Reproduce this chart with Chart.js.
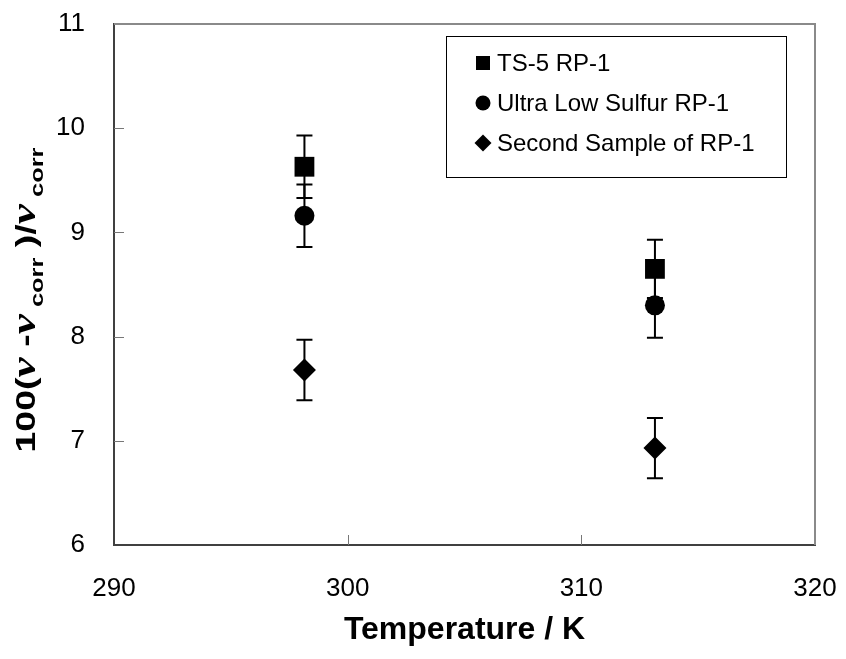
<!DOCTYPE html>
<html><head><meta charset="utf-8">
<script src="https://cdn.jsdelivr.net/npm/chart.js@4.4.1/dist/chart.umd.min.js"></script>
<style>html,body{margin:0;padding:0;background:#fff}#wrap{width:846px;height:659px}</style>
</head><body><div id="wrap"><canvas id="c" width="846" height="659"></canvas></div>
<script>
const temperatures = [298.15, 313.15];
const ts5Values = [9.63, 8.65];
const ts5Errors = [0.30, 0.28];
const ulsValues = [9.16, 8.30];
const ulsErrors = [0.30, 0.31];
const secondValues = [7.68, 6.93];
const secondErrors = [0.29, 0.29];
const seriesLabels = ['TS-5 RP-1', 'Ultra Low Sulfur RP-1', 'Second Sample of RP-1'];
const xTicks = [290, 300, 310, 320];
const yTicks = [6, 7, 8, 9, 10, 11];
const xTitle = 'Temperature / K';
const yTitleParts = ['100(', 'ν', ' -', 'ν', ' corr', ' )/', 'ν', ' corr'];

const FONT = "'Liberation Sans', Arial, sans-serif";

function pts(vals) { return temperatures.map((t, i) => ({ x: t, y: vals[i] })); }

const errorBarPlugin = {
  id: 'errorBars',
  beforeDatasetsDraw(chart) {
    const { ctx, scales: { x, y } } = chart;
    ctx.save();
    ctx.strokeStyle = '#000';
    ctx.lineWidth = 2;
    chart.data.datasets.forEach(ds => {
      ds.data.forEach((p, i) => {
        const e = ds.errorValues[i];
        const px = x.getPixelForValue(p.x);
        const yt = y.getPixelForValue(p.y + e);
        const yb = y.getPixelForValue(p.y - e);
        ctx.beginPath();
        ctx.moveTo(px, yt); ctx.lineTo(px, yb);
        ctx.moveTo(px - 8, yt); ctx.lineTo(px + 8, yt);
        ctx.moveTo(px - 8, yb); ctx.lineTo(px + 8, yb);
        ctx.stroke();
      });
    });
    ctx.restore();
  }
};

const framePlugin = {
  id: 'frame',
  beforeDatasetsDraw(chart) {
    const { ctx, chartArea: a, scales: { x, y } } = chart;
    ctx.save();
    ctx.strokeStyle = '#8a8a8a';
    ctx.lineWidth = 2;
    ctx.beginPath();
    ctx.moveTo(a.left, a.top); ctx.lineTo(a.right, a.top); ctx.lineTo(a.right, a.bottom);
    ctx.stroke();
    ctx.strokeStyle = '#777';
    ctx.lineWidth = 1;
    ctx.beginPath();
    xTicks.forEach(v => {
      const px = Math.round(x.getPixelForValue(v)) + 0.5;
      if (v === xTicks[0] || v === xTicks[xTicks.length - 1]) return;
      ctx.moveTo(px, a.bottom); ctx.lineTo(px, a.bottom - 10);
    });
    yTicks.forEach(v => {
      const py = Math.round(y.getPixelForValue(v)) + 0.5;
      if (v === yTicks[0] || v === yTicks[yTicks.length - 1]) return;
      ctx.moveTo(a.left, py); ctx.lineTo(a.left + 10, py);
    });
    ctx.stroke();
    ctx.restore();
  }
};

const legendPlugin = {
  id: 'boxLegend',
  afterDraw(chart) {
    const { ctx } = chart;
    ctx.save();
    ctx.strokeStyle = '#000';
    ctx.lineWidth = 1;
    ctx.strokeRect(446.5, 36.5, 340, 141);
    const rows = [63, 103, 143];
    ctx.fillStyle = '#000';
    ctx.font = '24px ' + FONT;
    ctx.textBaseline = 'middle';
    ctx.textAlign = 'left';
    chart.data.datasets.forEach((ds, i) => {
      const cy = rows[i], cx = 483;
      ctx.beginPath();
      if (ds.pointStyle === 'rect') { ctx.rect(cx - 7, cy - 7, 14, 14); }
      else if (ds.pointStyle === 'circle') { ctx.arc(cx, cy, 7.5, 0, Math.PI * 2); }
      else { ctx.moveTo(cx, cy - 8.5); ctx.lineTo(cx + 8.5, cy); ctx.lineTo(cx, cy + 8.5); ctx.lineTo(cx - 8.5, cy); ctx.closePath(); }
      ctx.fill();
      ctx.fillText(ds.label, 497, cy + 1);
    });
    ctx.restore();
  }
};

const yTitlePlugin = {
  id: 'yTitle',
  afterDraw(chart) {
    const { ctx } = chart;
    const big = "bold 28px " + FONT;
    const greek = "italic bold 34px 'Liberation Serif', serif";
    const small = "bold 19px " + FONT;
    const segs = yTitleParts.map(t => {
      if (t === 'ν') return { t, f: greek, dy: 0 };
      if (t.trim() === 'corr') return { t, f: small, dy: 8 };
      return { t, f: big, dy: 0 };
    });
    ctx.save();
    let total = 0;
    segs.forEach(s => { ctx.font = s.f; s.w = ctx.measureText(s.t).width; total += s.w; });
    const targetLen = 305;
    const k = targetLen / total;
    ctx.translate(35, 300);
    ctx.rotate(-Math.PI / 2);
    ctx.scale(k, 1);
    ctx.fillStyle = '#000';
    ctx.textBaseline = 'alphabetic';
    ctx.textAlign = 'left';
    let cx = -total / 2;
    segs.forEach(s => { ctx.font = s.f; ctx.fillText(s.t, cx, s.dy); cx += s.w; });
    ctx.restore();
  }
};

new Chart(document.getElementById('c'), {
  type: 'scatter',
  data: {
    datasets: [
      { label: seriesLabels[0], data: pts(ts5Values), errorValues: ts5Errors, pointStyle: 'rect', pointRadius: 14, backgroundColor: '#000', borderWidth: 0 },
      { label: seriesLabels[1], data: pts(ulsValues), errorValues: ulsErrors, pointStyle: 'circle', pointRadius: 10, backgroundColor: '#000', borderWidth: 0 },
      { label: seriesLabels[2], data: pts(secondValues), errorValues: secondErrors, pointStyle: 'rectRot', pointRadius: 11.5, backgroundColor: '#000', borderWidth: 0 }
    ]
  },
  options: {
    responsive: false,
    devicePixelRatio: 1,
    animation: false,
    layout: { padding: { top: 24, right: 31, left: 0, bottom: 0 } },
    plugins: { legend: { display: false }, tooltip: { enabled: false } },
    scales: {
      x: {
        type: 'linear', min: 290, max: 320,
        afterBuildTicks: s => { s.ticks = xTicks.map(v => ({ value: v })); },
        afterFit: s => { s.height = 114; s.paddingLeft = 0; s.paddingRight = 0; },
        grid: { display: false, drawTicks: false },
        border: { display: true, color: '#404040', width: 2 },
        ticks: { color: '#000', font: { family: FONT, size: 26 }, padding: 28, maxRotation: 0 },
        title: { display: true, text: xTitle, color: '#000', font: { family: FONT, size: 32, weight: 'bold' }, padding: { top: 0, bottom: 10 } }
      },
      y: {
        type: 'linear', min: 6, max: 11,
        afterBuildTicks: s => { s.ticks = yTicks.map(v => ({ value: v })); },
        afterFit: s => { s.width = 114; s.paddingTop = 0; s.paddingBottom = 0; },
        grid: { display: false, drawTicks: false },
        border: { display: true, color: '#404040', width: 2 },
        ticks: { color: '#000', font: { family: FONT, size: 26 }, padding: 29 }
      }
    }
  },
  plugins: [framePlugin, errorBarPlugin, legendPlugin, yTitlePlugin]
});
</script>
</body></html>
